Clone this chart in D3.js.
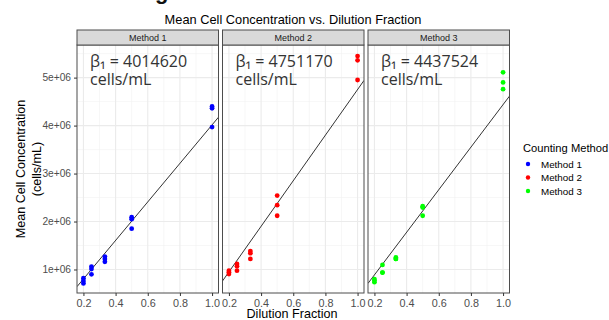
<!DOCTYPE html>
<html>
<head>
<meta charset="utf-8">
<script src="https://cdn.jsdelivr.net/npm/d3@7"></script>
<style>
  body { margin: 0; background: #fff; }
  svg { display: block; font-family: "Liberation Sans", Arial, sans-serif; }
</style>
</head>
<body>
<svg id="chart" width="609" height="320"></svg>
<script>
// dilution fraction for each replicate (3 per level)
var dilution = [0.2, 0.2, 0.2, 0.25, 0.25, 0.25, 1/3, 1/3, 1/3, 0.5, 0.5, 0.5, 1.0, 1.0, 1.0];

var method1 = [0.82e6, 0.76e6, 0.71e6, 1.06e6, 1.01e6, 0.90e6, 1.27e6, 1.22e6, 1.16e6, 2.09e6, 2.05e6, 1.85e6, 4.40e6, 4.36e6, 3.97e6];
var method2 = [0.975e6, 0.94e6, 0.905e6, 1.115e6, 1.07e6, 0.975e6, 1.385e6, 1.34e6, 1.22e6, 2.54e6, 2.34e6, 2.12e6, 5.45e6, 5.36e6, 4.95e6];
var method3 = [0.80e6, 0.77e6, 0.735e6, 1.095e6, 0.935e6, 0.935e6, 1.25e6, 1.22e6, 1.22e6, 2.32e6, 2.29e6, 2.12e6, 5.11e6, 4.90e6, 4.76e6];

var methods = ["Method 1", "Method 2", "Method 3"];
var betas = [4014620, 4751170, 4437524];
var colors = ["#0000ff", "#ff0000", "#00ff00"];

var xTicks = [0.2, 0.4, 0.6, 0.8, 1.0];
var xMinor = [0.3, 0.5, 0.7, 0.9];
var yTicks = [1e6, 2e6, 3e6, 4e6, 5e6];
var yMinor = [1.5e6, 2.5e6, 3.5e6, 4.5e6, 5.5e6];

var series = [method1, method2, method3];

var svg = d3.select("#chart");

var panelLeft = [77, 222.5, 368],
    panelW = 141.5,
    panelTop = 45,
    panelBottom = 293,
    stripTop = 30;

var y = d3.scaleLinear().domain([0.51e6, 5.68e6]).range([panelBottom, panelTop]);

// cropped heading fragment above the chart
svg.append("text")
    .attr("x", 155).attr("y", -1)
    .attr("font-size", 22).attr("font-weight", "bold")
    .attr("fill", "#111")
    .text("g");

svg.append("text")
    .attr("x", 293).attr("y", 24)
    .attr("text-anchor", "middle")
    .attr("font-size", 12.8)
    .attr("fill", "#000")
    .text("Mean Cell Concentration vs. Dilution Fraction");

methods.forEach(function(m, i) {
  var x0 = panelLeft[i];
  var x = d3.scaleLinear().domain([0.16, 1.04]).range([x0, x0 + panelW]);
  var g = svg.append("g");

  // grid
  g.selectAll("line.ymin").data(yMinor).enter().append("line")
      .attr("x1", x0).attr("x2", x0 + panelW)
      .attr("y1", function(d) { return y(d); }).attr("y2", function(d) { return y(d); })
      .attr("stroke", "#f2f2f2").attr("stroke-width", 0.6);
  g.selectAll("line.xmin").data(xMinor).enter().append("line")
      .attr("y1", panelTop).attr("y2", panelBottom)
      .attr("x1", function(d) { return x(d); }).attr("x2", function(d) { return x(d); })
      .attr("stroke", "#f2f2f2").attr("stroke-width", 0.6);
  g.selectAll("line.ymaj").data(yTicks).enter().append("line")
      .attr("x1", x0).attr("x2", x0 + panelW)
      .attr("y1", function(d) { return y(d); }).attr("y2", function(d) { return y(d); })
      .attr("stroke", "#ebebeb").attr("stroke-width", 1.1);
  g.selectAll("line.xmaj").data(xTicks).enter().append("line")
      .attr("y1", panelTop).attr("y2", panelBottom)
      .attr("x1", function(d) { return x(d); }).attr("x2", function(d) { return x(d); })
      .attr("stroke", "#ebebeb").attr("stroke-width", 1.1);

  // fitted line through origin
  var clipId = "clip" + i;
  svg.append("clipPath").attr("id", clipId).append("rect")
      .attr("x", x0).attr("y", panelTop).attr("width", panelW).attr("height", panelBottom - panelTop);
  var line = d3.line().x(function(d) { return x(d); }).y(function(d) { return y(d * betas[i]); });
  g.append("path")
      .datum([0.16, 1.04])
      .attr("d", line)
      .attr("clip-path", "url(#" + clipId + ")")
      .attr("fill", "none").attr("stroke", "#333").attr("stroke-width", 1);

  // points
  g.selectAll("circle").data(series[i]).enter().append("circle")
      .attr("cx", function(d, j) { return x(dilution[j]); })
      .attr("cy", function(d) { return y(d); })
      .attr("r", 2.4)
      .attr("fill", colors[i]);

  // annotation
  g.append("text")
      .attr("x", x0 + 13).attr("y", 67)
      .attr("font-family", "'Open Sans', sans-serif")
      .attr("font-size", 16)
      .attr("fill", "#333")
      .text("\u03b2\u2081 = " + betas[i]);
  g.append("text")
      .attr("x", x0 + 13).attr("y", 85)
      .attr("font-family", "'Open Sans', sans-serif")
      .attr("font-size", 16)
      .attr("fill", "#333")
      .text("cells/mL");

  // border
  g.append("rect")
      .attr("x", x0).attr("y", panelTop).attr("width", panelW).attr("height", panelBottom - panelTop)
      .attr("fill", "none").attr("stroke", "#4d4d4d").attr("stroke-width", 1);

  // strip
  g.append("rect")
      .attr("x", x0).attr("y", stripTop).attr("width", panelW).attr("height", panelTop - stripTop)
      .attr("fill", "#d9d9d9").attr("stroke", "#4d4d4d").attr("stroke-width", 1);
  g.append("text")
      .attr("x", x0 + panelW / 2).attr("y", 40.5)
      .attr("text-anchor", "middle")
      .attr("font-size", 9).attr("fill", "#1a1a1a")
      .text(m);

  // x axis
  var xAxis = svg.append("g")
      .attr("transform", "translate(0," + panelBottom + ")")
      .call(d3.axisBottom(x).tickValues(xTicks).tickFormat(d3.format(".1f")).tickSize(3).tickPadding(3));
  xAxis.select(".domain").remove();
  xAxis.selectAll("line").attr("stroke", "#333");
  xAxis.selectAll("text").attr("font-size", 10.8).attr("fill", "#4d4d4d")
      .attr("font-family", "'Liberation Sans', Arial, sans-serif");
});

// y axis
var yAxis = svg.append("g")
    .attr("transform", "translate(" + panelLeft[0] + ",0)")
    .call(d3.axisLeft(y).tickValues(yTicks).tickFormat(function(d) { return (d / 1e6) + "e+06"; }).tickSize(3).tickPadding(3));
yAxis.select(".domain").remove();
yAxis.selectAll("line").attr("stroke", "#333");
yAxis.selectAll("text").attr("font-size", 10.2).attr("fill", "#4d4d4d")
    .attr("font-family", "'Liberation Sans', Arial, sans-serif");

// axis titles
var yt = svg.append("text")
    .attr("transform", "translate(25," + ((panelTop + panelBottom) / 2) + ") rotate(-90)")
    .attr("text-anchor", "middle")
    .attr("font-size", 12.6).attr("fill", "#000");
yt.append("tspan").attr("x", 0).attr("y", 0).text("Mean Cell Concentration");
yt.append("tspan").attr("x", 0).attr("y", 16).text("(cells/mL)");

svg.append("text")
    .attr("x", 292).attr("y", 318)
    .attr("text-anchor", "middle")
    .attr("font-size", 12.6).attr("fill", "#000")
    .text("Dilution Fraction");

// legend
var leg = svg.append("g");
leg.append("text")
    .attr("x", 523).attr("y", 152)
    .attr("font-size", 11.2).attr("fill", "#000")
    .text("Counting Method");
var legY = d3.scalePoint().domain(methods).range([164, 191]);
methods.forEach(function(m, i) {
  leg.append("circle")
      .attr("cx", 528).attr("cy", legY(m)).attr("r", 2.2).attr("fill", colors[i]);
  leg.append("text")
      .attr("x", 541).attr("y", legY(m) + 3.5)
      .attr("font-size", 9.8).attr("fill", "#000")
      .text(m);
});
</script>
</body>
</html>
